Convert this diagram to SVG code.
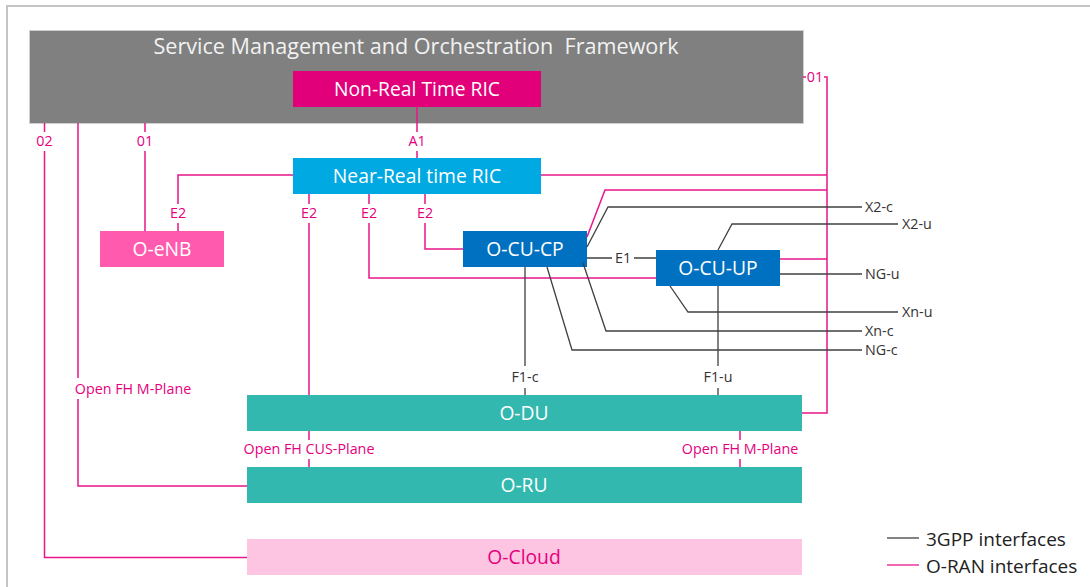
<svg xmlns="http://www.w3.org/2000/svg" width="1090" height="587" viewBox="0 0 1090 587">
<style>
text{font-family:"Open Sans","Noto Sans","Liberation Sans",sans-serif}
.o{fill:none;stroke:#e8168a;stroke-width:1.5}
.g{fill:none;stroke:#404040;stroke-width:1.3}
.lp{font-size:14.3px;fill:#e6007e;text-anchor:middle}
.lb{font-size:14.3px;fill:#333}
.lbm{font-size:14.3px;fill:#333;text-anchor:middle}
.nt{font-size:19.3px;fill:#fff;text-anchor:middle}
</style>
<rect width="1090" height="587" fill="#fff"/>
<path d="M7,587 V6 H1090" fill="none" stroke="#c4c4c4" stroke-width="2"/>

<g id="smo">
<rect x="29.5" y="30.5" width="774" height="93" fill="#808080" stroke="#cfcfcf" stroke-width="1"/>
<text x="416" y="54" style="font-size:21.6px;fill:#f2f2f2;text-anchor:middle" xml:space="preserve">Service Management and Orchestration  Framework</text>
</g>
<g id="nonrt">
<rect x="293" y="71" width="248" height="36" fill="#e2007a"/>
<text x="417" y="96" class="nt">Non-Real Time RIC</text>
</g>
<g id="nearrt">
<rect x="293" y="158" width="248" height="36" fill="#00a9e2"/>
<text x="417" y="183" class="nt">Near-Real time RIC</text>
</g>
<g id="oenb">
<rect x="100" y="231" width="124" height="36" fill="#ff5aad"/>
<text x="162" y="256" class="nt">O-eNB</text>
</g>
<g id="ocucp">
<rect x="463" y="231" width="124" height="36" fill="#0070c0"/>
<text x="525" y="256" class="nt">O-CU-CP</text>
</g>
<g id="ocuup">
<rect x="656" y="250" width="124" height="36" fill="#0070c0"/>
<text x="718" y="275" class="nt">O-CU-UP</text>
</g>
<g id="odu">
<rect x="247" y="395" width="555" height="36" fill="#32b8ae"/>
<text x="524" y="420" class="nt">O-DU</text>
</g>
<g id="oru">
<rect x="247" y="467" width="555" height="36" fill="#32b8ae"/>
<text x="524" y="492" class="nt">O-RU</text>
</g>
<g id="ocloud">
<rect x="247" y="539" width="555" height="36" fill="#fdc5e2"/>
<text x="524" y="564" class="nt" style="fill:#e6007e">O-Cloud</text>
</g>

<g id="connectors">
<path class="o" d="M417,107 V132 M417,151 V158"/>
<path class="o" d="M44.5,123 V132 M44.5,151 V557.5 H247"/>
<path class="o" d="M78,123 V378 M78,399 V486 H247"/>
<path class="o" d="M145,123 V132 M145,151 V231"/>
<path class="o" d="M293,175 H178 V204 M178,223 V231"/>
<path class="o" d="M309,194 V204 M309,223 V395"/>
<path class="o" d="M369,194 V204 M369,223 V278 H656"/>
<path class="o" d="M425,194 V204 M425,223 V249 H463"/>
<path class="o" d="M541,175 H827"/>
<path class="o" d="M803,77 H806 M824,77 H827 V413 H802"/>
<path class="o" d="M587,237 L605,190 H827"/>
<path class="o" d="M780,259 H827"/>
<path class="o" d="M309,431 V440 M309,459 V467"/>
<path class="o" d="M740,431 V440 M740,459 V467"/>

<path class="g" d="M587,247 L608,207 H862"/>
<path class="g" d="M718,250 L732,224 H898"/>
<path class="g" d="M587,258 H612 M634,258 H656"/>
<path class="g" d="M780,274 H862"/>
<path class="g" d="M670,286 L688,312 H898"/>
<path class="g" d="M583,263 L606,331 H862"/>
<path class="g" d="M547,267 L572,350 H862"/>
<path class="g" d="M525,267 V366 M525,388 V395"/>
<path class="g" d="M718,286 V366 M718,388 V395"/>

<text x="44.5" y="146" class="lp">02</text>
<text x="145" y="146" class="lp">01</text>
<text x="417" y="146" class="lp">A1</text>
<text x="815" y="82" class="lp">01</text>
<text x="178" y="218" class="lp">E2</text>
<text x="309" y="218" class="lp">E2</text>
<text x="369" y="218" class="lp">E2</text>
<text x="425" y="218" class="lp">E2</text>
<text x="133" y="394" class="lp">Open FH M-Plane</text>
<text x="309" y="454" class="lp">Open FH CUS-Plane</text>
<text x="740" y="454" class="lp">Open FH M-Plane</text>
<text x="623" y="263" class="lbm">E1</text>
<text x="525" y="382" class="lbm">F1-c</text>
<text x="718" y="382" class="lbm">F1-u</text>
<text x="865" y="212" class="lb">X2-c</text>
<text x="902" y="229" class="lb">X2-u</text>
<text x="865" y="279" class="lb">NG-u</text>
<text x="902" y="317" class="lb">Xn-u</text>
<text x="865" y="336" class="lb">Xn-c</text>
<text x="865" y="355" class="lb">NG-c</text>
</g>

<g id="legend">
<line x1="887" y1="538" x2="919" y2="538" stroke="#404040" stroke-width="1.3"/>
<text x="926" y="546" style="font-size:19px;fill:#222">3GPP interfaces</text>
<line x1="887" y1="565" x2="919" y2="565" stroke="#e8168a" stroke-width="1.3"/>
<text x="926" y="573" style="font-size:19px;fill:#222">O-RAN interfaces</text>
</g>
</svg>
